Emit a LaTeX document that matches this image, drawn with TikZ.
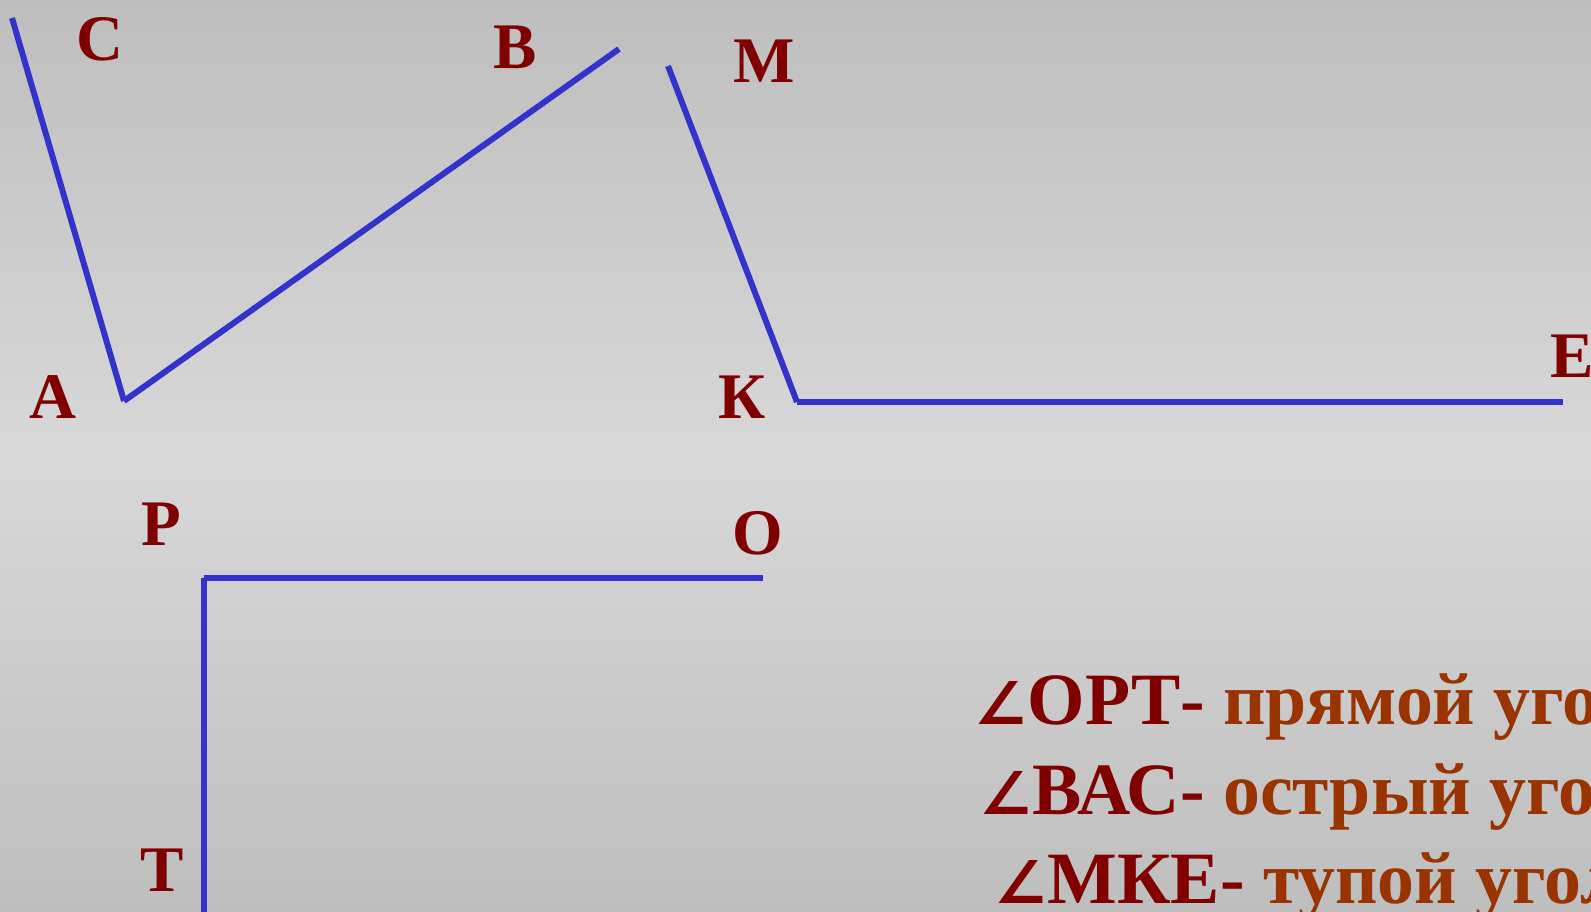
\documentclass[tikz,border=0pt]{standalone}
\usepackage{fontspec}
\setmainfont{Liberation Serif}
\newfontfamily\anglefont{DejaVu Sans}
\usetikzlibrary{positioning}
\definecolor{lineBlue}{HTML}{3333CC}
\definecolor{labelRed}{HTML}{800000}
\definecolor{textBrown}{HTML}{993300}
\definecolor{bgDark}{HTML}{BEBEBE}
\definecolor{bgLight}{HTML}{D8D8D8}
\newcommand{\angsign}{\scalebox{0.8}{\anglefont ∠}}

\begin{document}
\begin{tikzpicture}[
    x=0.1mm, y=-0.1mm,
    side/.style={draw=lineBlue, line width=1.7pt},
    vertex/.style={text=labelRed, inner sep=0pt, font=\fontsize{18.5}{20}\selectfont\bfseries},
    angletext/.style={anchor=base west, inner sep=0pt, text=labelRed, font=\fontsize{21}{23}\selectfont\bfseries}
]
    \useasboundingbox (0,0) rectangle (1591,912);
    \clip (0,0) rectangle (1591,912);
    \shade[top color=bgDark, bottom color=bgDark, middle color=bgLight] (0,0) rectangle (1591,912);

    \coordinate (c) at (12,18);
    \coordinate (a) at (124,401);
    \coordinate (b) at (619,49);
    \coordinate (m) at (668,66);
    \coordinate (k) at (797,402);
    \coordinate (e) at (1563,402);
    \coordinate (p) at (204,578);
    \coordinate (o) at (763,578);
    \coordinate (t) at (204,920);

    \draw[side] (c) -- (a);
    \draw[side] (a) -- (b);
    \draw[side] (m) -- (k);
    \draw[side] (k) -- (e);
    \draw[side] (p) -- (o);
    \draw[side] (p) -- (t);

    \node[vertex] (labC) at (100,39) {С};
    \node[vertex] (labB) at (515,47) {В};
    \node[vertex] (labM) at (764,61) {М};
    \node[vertex] (labA) at (53,397) {А};
    \node[vertex] (labK) at (742,397) {К};
    \node[vertex, anchor=west] (labE) at (1550,356) {Е};
    \node[vertex] (labP) at (161,524) {Р};
    \node[vertex] (labO) at (758,533) {О};
    \node[vertex] (labT) at (162,870) {Т};

    \node[angletext] (right) at (974,725) {\angsign ОРТ- \textcolor{textBrown}{прямой угол}};
    \node[angletext] (acute) at (979,815) {\angsign ВАС- \textcolor{textBrown}{острый угол}};
    \node[angletext] (obtuse) at (994,904) {\angsign МКЕ- \textcolor{textBrown}{тупой угол}};
\end{tikzpicture}
\end{document}
